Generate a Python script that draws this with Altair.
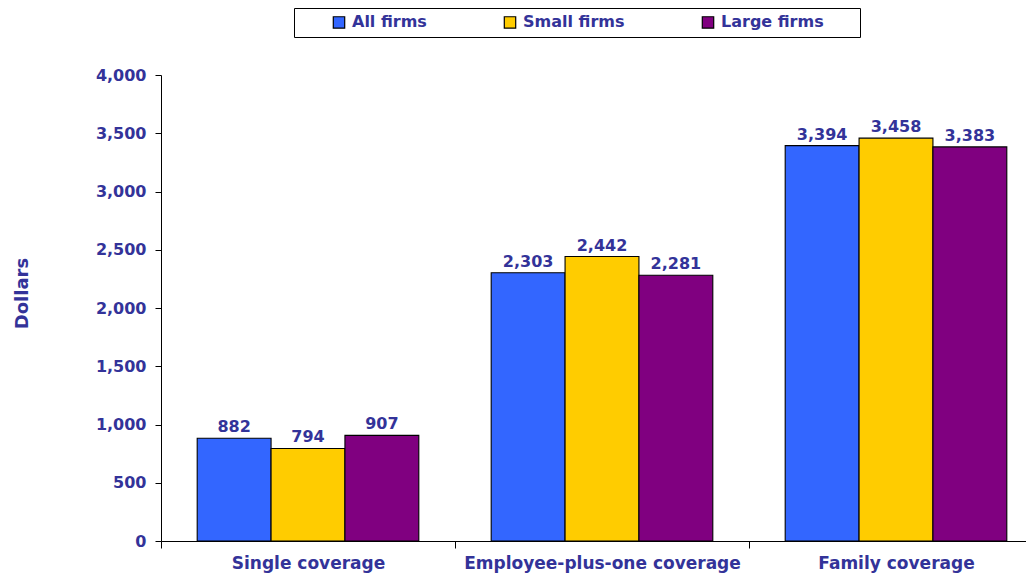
import altair as alt
import pandas as pd

categories = ["Single coverage", "Employee-plus-one coverage", "Family coverage"]
series = ["All firms", "Small firms", "Large firms"]
all_firms = [882, 2303, 3394]
small_firms = [794, 2442, 3458]
large_firms = [907, 2281, 3383]
colors = ["#3366FF", "#FFCC00", "#800080"]

rows = []
for s, vals in zip(series, [all_firms, small_firms, large_firms]):
    for c, v in zip(categories, vals):
        rows.append({"category": c, "series": s, "value": v})
df = pd.DataFrame(rows)

TXT = "#333399"
FONT = "DejaVu Sans"

x = alt.X("category:N", sort=categories, title=None,
          scale=alt.Scale(paddingInner=0, paddingOuter=0, range=[0, 882]),
          axis=alt.Axis(labelAngle=0, labelFont=FONT, labelFontSize=17, labelFontWeight="bold",
                        labelColor=TXT, labelPadding=7, tickBand="extent", tickSize=7,
                        tickColor="black", domainColor="black", labelLimit=400))
xo = alt.XOffset("series:N", sort=series, scale=alt.Scale(paddingInner=0, paddingOuter=0.49))

bars = alt.Chart(df).mark_bar(stroke="black", strokeWidth=1.1).encode(
    x=x, xOffset=xo,
    y=alt.Y("value:Q", title="Dollars",
            scale=alt.Scale(domain=[0, 4000]),
            axis=alt.Axis(values=list(range(0, 4001, 500)), format=",.0f", labelFont=FONT,
                          labelFontSize=16, labelFontWeight="bold", labelColor=TXT,
                          titleFont=FONT, titleFontSize=18, titleFontWeight="bold",
                          titleColor=TXT, titlePadding=64, titleY=218, grid=False, tickSize=6,
                          labelPadding=9, tickColor="black", domainColor="black")),
    color=alt.Color("series:N", sort=series, scale=alt.Scale(domain=series, range=colors),
                    legend=alt.Legend(title=" ", titleOrient="right", titlePadding=30,
                                      titleFontSize=16, titleFont=FONT,
                                      orient="none", legendX=133, legendY=-67,
                                      direction="horizontal", columns=3, symbolType="square",
                                      symbolSize=130, symbolStrokeColor="black",
                                      symbolStrokeWidth=1.2, labelFont=FONT, labelFontSize=16,
                                      labelFontWeight="bold", labelColor=TXT, columnPadding=44,
                                      strokeColor="black", padding=6, symbolOffset=31,
                                      labelOffset=5, symbolOpacity=1)),
)

labels = alt.Chart(df).mark_text(dy=-6, baseline="alphabetic", font=FONT, fontSize=16,
                                 fontWeight="bold", color=TXT).encode(
    x=x, xOffset=xo, y="value:Q", text=alt.Text("value:Q", format=",.0f"))

chart = (bars + labels).properties(
    width=865, height=466,
    autosize=alt.AutoSizeParams(type="none"),
    padding={"left": 153, "top": 67, "right": 0, "bottom": 32},
).configure_view(stroke=None)

chart.save("out.html", embed_options={"renderer": "svg", "actions": False})
